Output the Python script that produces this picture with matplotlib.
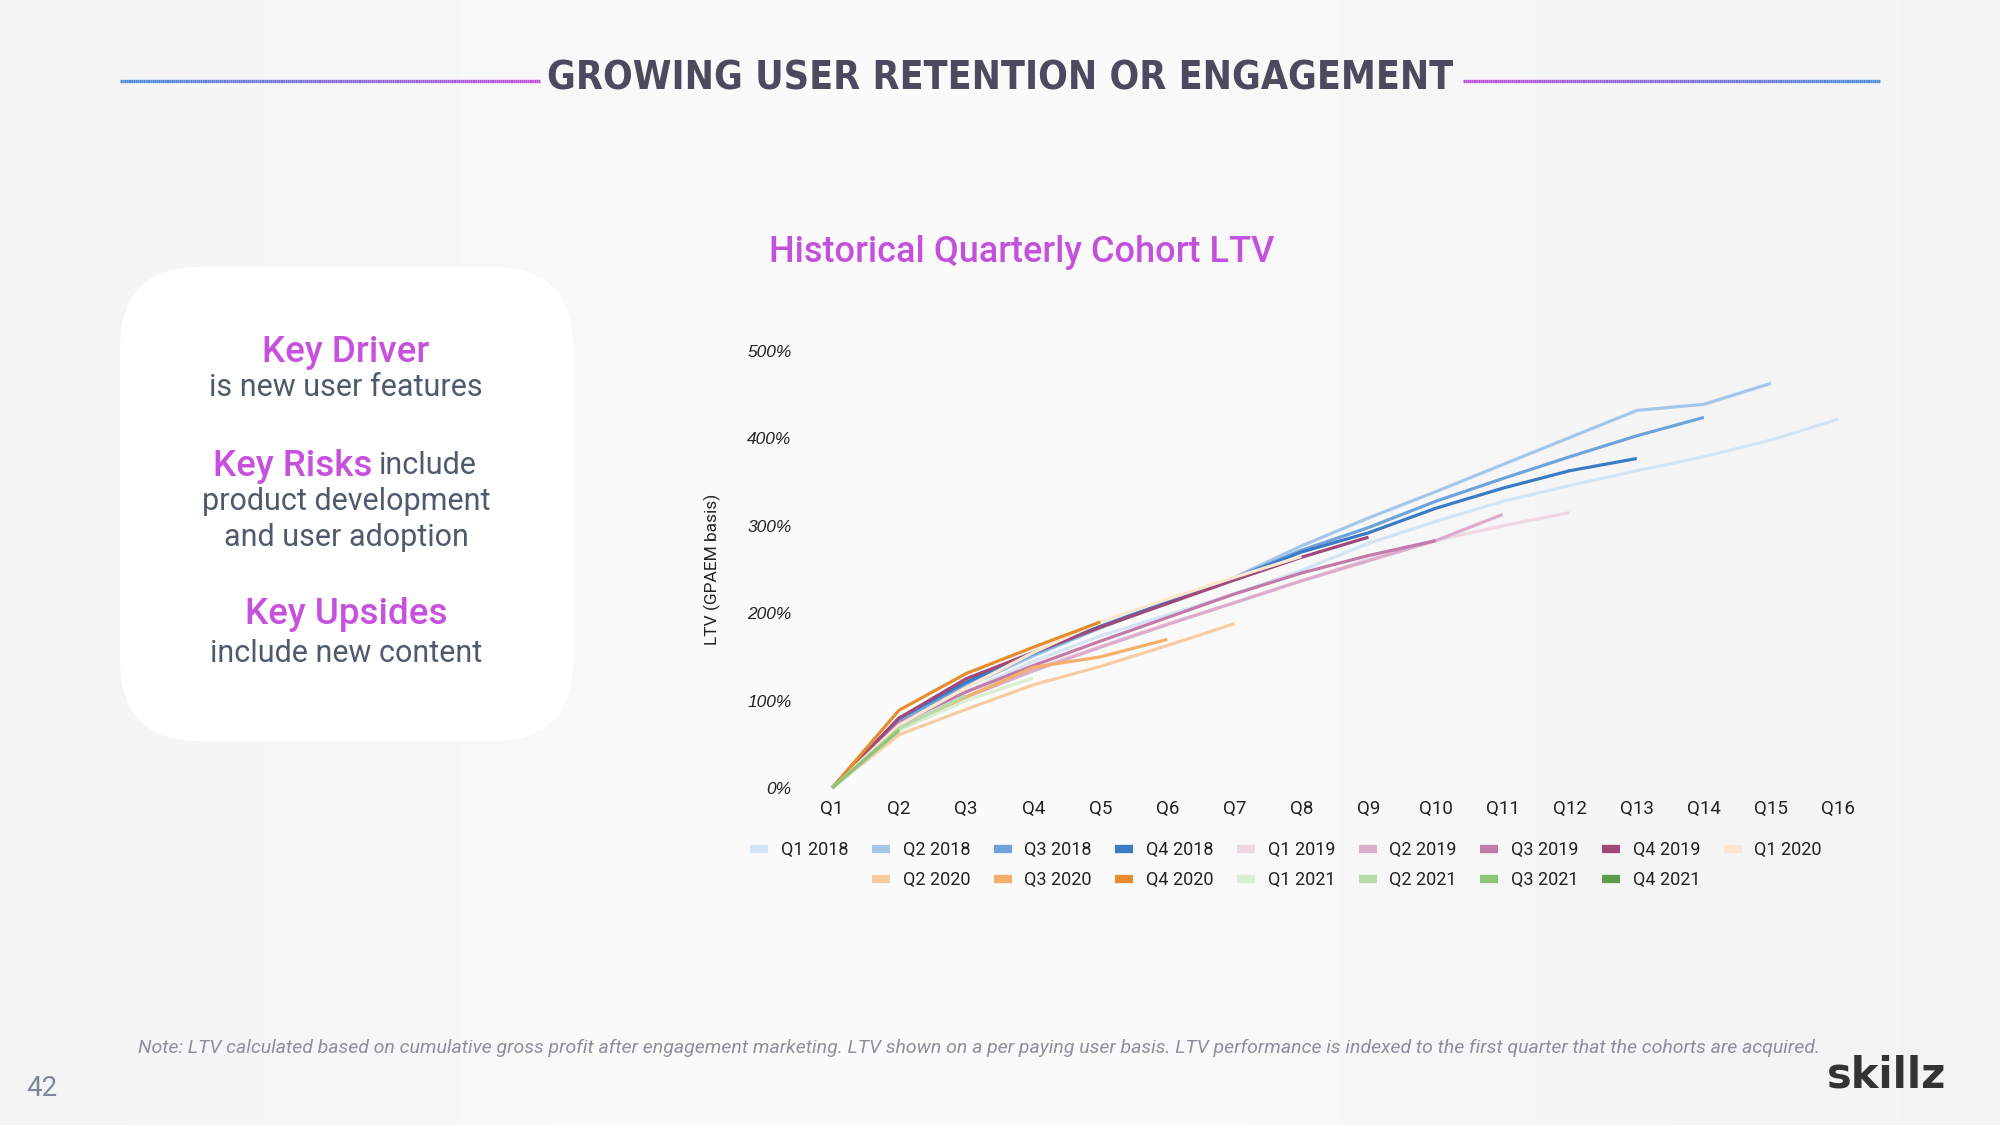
import numpy as np
import matplotlib
matplotlib.use('Agg')
import matplotlib.pyplot as plt
from matplotlib import font_manager as fm
from matplotlib.collections import LineCollection
from matplotlib.patches import FancyBboxPatch
from matplotlib.lines import Line2D

# cohort LTV (%), indexed to quarter of acquisition
cohorts = ['Q1 2018', 'Q2 2018', 'Q3 2018', 'Q4 2018',
           'Q1 2019', 'Q2 2019', 'Q3 2019', 'Q4 2019',
           'Q1 2020', 'Q2 2020', 'Q3 2020', 'Q4 2020',
           'Q1 2021', 'Q2 2021', 'Q3 2021', 'Q4 2021']
ltv_q1_2018 = [0, 72, 110, 145, 174, 198, 222, 249, 280, 305, 328, 346, 363, 379, 398, 422]
ltv_q2_2018 = [0, 76, 116, 151, 183, 212, 241, 277, 309, 339, 370, 401, 432, 439, 463]
ltv_q3_2018 = [0, 77, 118, 153, 184, 212, 240, 272, 298, 328, 354, 379, 403, 424]
ltv_q4_2018 = [0, 80, 121, 155, 185, 213, 240, 270, 292, 320, 343, 363, 377]
ltv_q1_2019 = [0, 70, 105, 136, 162, 188, 212, 237, 262, 283, 300, 315]
ltv_q2_2019 = [0, 70, 104, 134, 161, 187, 212, 237, 260, 283, 313]
ltv_q3_2019 = [0, 74, 110, 140, 168, 195, 222, 246, 266, 283]
ltv_q4_2019 = [0, 80, 125, 155, 184, 211, 238, 264, 287]
ltv_q1_2020 = [0, 72, 115, 155, 190, 216, 241, 265]
ltv_q2_2020 = [0, 61, 90, 118, 139, 163, 188]
ltv_q3_2020 = [0, 68, 104, 138, 150, 170]
ltv_q4_2020 = [0, 89, 131, 161, 190]
ltv_q1_2021 = [0, 66, 100, 126]
ltv_q2_2021 = [0, 68, 106]
ltv_q3_2021 = [0, 66]
ltv_q4_2021 = [0]

series = [ltv_q1_2018, ltv_q2_2018, ltv_q3_2018, ltv_q4_2018,
          ltv_q1_2019, ltv_q2_2019, ltv_q3_2019, ltv_q4_2019,
          ltv_q1_2020, ltv_q2_2020, ltv_q3_2020, ltv_q4_2020,
          ltv_q1_2021, ltv_q2_2021, ltv_q3_2021, ltv_q4_2021]
quarters = ['Q%d' % i for i in range(1, 17)]
yticks = [0, 100, 200, 300, 400, 500]

colors = ['#d3e5f5', '#a3c6e9', '#6fa3dc', '#3a7cc4',
          '#eed6e3', '#dbaccb', '#c27ba9', '#a0487a',
          '#fbe6cf', '#f8cca2', '#f4b06a', '#e68c2c',
          '#d9eed3', '#b7dcaa', '#8cc47a', '#5c9e48']


def narrow_font():
    # look for a condensed / narrow bold face for the slide title
    best = None
    for f in fm.fontManager.ttflist:
        nm = f.name.lower()
        narrow = ('narrow' in nm or 'condensed' in nm or
                  str(f.stretch).lower() in ('condensed', 'semi-condensed', 'extra-condensed'))
        if not narrow:
            continue
        w = f.weight if isinstance(f.weight, int) else (700 if 'bold' in str(f.weight) else 400)
        if best is None or abs(w - 700) < abs(best[0] - 700):
            best = (w, f.fname)
    if best:
        return fm.FontProperties(fname=best[1])
    return fm.FontProperties(family='Roboto', weight='bold')


W, H = 2000, 1125
fig = plt.figure(figsize=(20, 11.25), dpi=100)
fig.patch.set_facecolor('#f1f1f1')

# background / slide layer in pixel coords
bg = fig.add_axes([0, 0, 1, 1], zorder=-1)
bg.set_xlim(0, W)
bg.set_ylim(H, 0)
bg.axis('off')
grad = np.linspace(0, 1, 400)
shade = 0.955 + 0.03 * np.exp(-((grad - 0.45) / 0.3) ** 2)
img = np.tile(shade, (50, 1))
bg.imshow(np.dstack([img, img, img]), extent=[0, W, H, 0], aspect='auto', zorder=0)

# title, sized to fit between the rules
tprop = narrow_font()
tprop.set_size(40)
title = fig.text(0.5, 1 - 79 / H, 'GROWING USER RETENTION OR ENGAGEMENT',
                 fontproperties=tprop, color='#4b4a5f', ha='center', va='center')
fig.canvas.draw()
tw = title.get_window_extent().width
title.set_fontsize(min(52, 40 * 905 / tw))


def grad_rule(x0, x1, y, c0, c1):
    xs = np.linspace(x0, x1, 200)
    segs = [[(xs[i], y), (xs[i + 1], y)] for i in range(len(xs) - 1)]
    c0 = np.array(matplotlib.colors.to_rgb(c0))
    c1 = np.array(matplotlib.colors.to_rgb(c1))
    t = np.linspace(0, 1, len(segs))[:, None]
    lc = LineCollection(segs, colors=c0 * (1 - t) + c1 * t, linewidths=2.4, zorder=2)
    bg.add_collection(lc)


grad_rule(120, 540, 81, '#4a8fd8', '#c24fda')
grad_rule(1463, 1880, 81, '#c24fda', '#4a8fd8')

# left rounded box
box = FancyBboxPatch((120, 267), 453, 474, boxstyle='round,pad=0,rounding_size=80',
                     fc='white', ec='none', zorder=1)
bg.add_patch(box)
magenta = '#c651dc'
grey = '#4f5a6d'
cx = 346
big, small = 26.5, 22
bg.text(cx, 352, 'Key Driver', family='Roboto', weight='medium', fontsize=big,
        color=magenta, ha='center', va='center', zorder=3)
bg.text(cx, 387, 'is new user features', family='Roboto', fontsize=small,
        color=grey, ha='center', va='center', zorder=3)
bg.text(372, 466, 'Key Risks', family='Roboto', weight='medium', fontsize=big,
        color=magenta, ha='right', va='center', zorder=3)
bg.text(379, 466, 'include', family='Roboto', fontsize=small,
        color=grey, ha='left', va='center', zorder=3)
bg.text(cx, 501, 'product development', family='Roboto', fontsize=small,
        color=grey, ha='center', va='center', zorder=3)
bg.text(cx, 537, 'and user adoption', family='Roboto', fontsize=small,
        color=grey, ha='center', va='center', zorder=3)
bg.text(cx, 614, 'Key Upsides', family='Roboto', weight='medium', fontsize=big,
        color=magenta, ha='center', va='center', zorder=3)
bg.text(cx, 654, 'include new content', family='Roboto', fontsize=small,
        color=grey, ha='center', va='center', zorder=3)

# chart title
bg.text(1022, 252, 'Historical Quarterly Cohort LTV', family='Roboto', weight='medium',
        fontsize=26, color='#c451db', ha='center', va='center', zorder=3)

# chart axes: Q1 at x=832, Q16 at x=1838; 0% at y=788, 500% at y=351
step = (1838 - 832) / 15
x_left = 832 - 0.5 * step
x_right = 1838 + 0.5 * step
ax = fig.add_axes([x_left / W, 1 - 788 / H, (x_right - x_left) / W, (788 - 351) / H])
ax.patch.set_alpha(0)
for s in ax.spines.values():
    s.set_visible(False)

for name, vals, col in zip(cohorts, series, colors):
    q = np.arange(1, len(vals) + 1)
    ax.plot(q, vals, color=col, lw=2.3, solid_capstyle='butt', clip_on=False, label=name)

ax.set_xlim(0.5, 16.5)
ax.set_ylim(0, 500)
ax.set_xticks(range(1, 17))
ax.set_xticklabels(quarters, family='Roboto', fontsize=13.5, color='#222222')
ax.set_yticks(yticks)
ax.set_yticklabels(['%d%%' % v for v in yticks], family='Liberation Sans',
                   style='italic', fontsize=12.5, color='#222222')
ax.tick_params(length=0)
ax.tick_params(axis='x', pad=8.5)
ax.tick_params(axis='y', pad=5)
ax.set_ylabel('LTV (GPAEM basis)', family='Roboto', fontsize=12.5, color='#222222')
ax.yaxis.set_label_coords((721 - x_left) / (x_right - x_left), 0.5)

# legend in two centred rows
handles = [Line2D([], [], color=c, lw=6, solid_capstyle='butt') for c in colors]
leg_kw = dict(frameon=False, handlelength=1.0, handletextpad=0.7, columnspacing=1.3,
              prop={'family': 'Roboto', 'size': 13}, labelcolor='#222222')
leg1 = fig.legend(handles[:9], cohorts[:9], ncol=9, loc='center',
                  bbox_to_anchor=(1286 / W, 1 - 850 / H), **leg_kw)
fig.legend(handles[9:], cohorts[9:], ncol=7, loc='center',
           bbox_to_anchor=(1286 / W, 1 - 880 / H), **leg_kw)

# footer
bg.text(979, 1048, 'Note: LTV calculated based on cumulative gross profit after engagement '
        'marketing. LTV shown on a per paying user basis. LTV performance is indexed to '
        'the first quarter that the cohorts are acquired.',
        family='Roboto', style='italic', fontsize=14, color='#8c909c',
        ha='center', va='center', zorder=3)
bg.text(42, 1088, '42', family='Roboto', fontsize=20,
        color='#7e8699', ha='center', va='center', zorder=3)
bg.text(1887, 1075, 'skillz', family='DejaVu Sans', weight='bold', fontsize=30,
        color='#333333', ha='center', va='center', zorder=3)

fig.savefig('out.png', dpi=100)
